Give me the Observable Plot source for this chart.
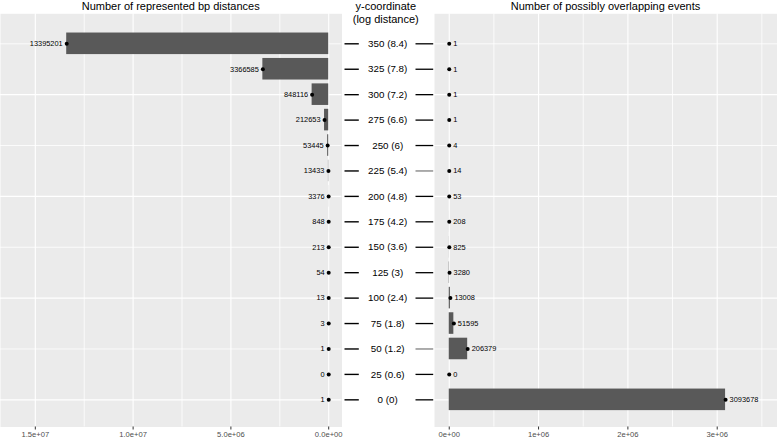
<!DOCTYPE html>
<html>
<head>
<meta charset="utf-8">
<script src="https://cdn.jsdelivr.net/npm/d3@7"></script>
<script src="https://cdn.jsdelivr.net/npm/@observablehq/plot@0.6"></script>
<style>
  html, body { margin: 0; padding: 0; background: #fff; }
  #wrap { position: relative; width: 777px; height: 440px; overflow: hidden; font-family: "Liberation Sans", Arial, sans-serif; }
  .panel { position: absolute; top: 0; }
  .title { position: absolute; top: 0px; font-size: 11px; line-height: 12.5px; color: #000; text-align: center; white-space: nowrap; transform: translateX(-50%); }
</style>
</head>
<body>
<div id="wrap"></div>
<script>
// ---- data ----
const yCoord   = [350, 325, 300, 275, 250, 225, 200, 175, 150, 125, 100, 75, 50, 25, 0];
const logDist  = ["8.4", "7.8", "7.2", "6.6", "6", "5.4", "4.8", "4.2", "3.6", "3", "2.4", "1.8", "1.2", "0.6", "0"];
const bpCounts = [13395201, 3366585, 848116, 212653, 53445, 13433, 3376, 848, 213, 54, 13, 3, 1, 0, 1];
const events   = [1, 1, 1, 1, 4, 14, 53, 208, 825, 3280, 13008, 51595, 206379, 0, 3093678];

const leftTicks  = [0, 5e6, 1e7, 1.5e7];
const leftMinor  = [2.5e6, 7.5e6, 1.25e7];
const rightTicks = [0, 1e6, 2e6, 3e6];
const rightMinor = [0.5e6, 1.5e6, 2.5e6, 3.5e6];
const yMajor = [0, 100, 200, 300];
const yMinor = [50, 150, 250, 350];

const titles = {
  left: "Number of represented bp distances",
  mid: ["y-coordinate", "(log distance)"],
  right: "Number of possibly overlapping events"
};

// style config for the connecting segments on the right of the labels
const graySegRows = new Set([225, 50]);

const rows = yCoord.map((y, i) => ({y, log: logDist[i], bp: bpCounts[i], ev: events[i]}));

// ---- helpers ----
function fmtExp(digits) {
  return v => {
    const [m, e] = v.toExponential(digits).split("e");
    const sign = e[0] === "-" ? "-" : "+";
    const n = e.replace(/^[+-]/, "");
    return `${m}e${sign}${n.padStart(2, "0")}`;
  };
}

const H = 440, MT = 13.3, MB = 13.5;
const yDomain = [-26.7, 379.5];
const half = 10.6;
const FONT = "'Liberation Sans', Arial, sans-serif";
const wrap = document.getElementById("wrap");

function place(svg, left) {
  const d = document.createElement("div");
  d.className = "panel";
  d.style.left = left + "px";
  d.appendChild(svg);
  wrap.appendChild(d);
}

function sidePanel({width, domain, reverse, valueKey, ticks, minor, fmt, labelSide}) {
  return Plot.plot({
    width, height: H,
    marginLeft: 0, marginRight: 0, marginTop: MT, marginBottom: MB,
    style: {fontFamily: FONT, background: "transparent", color: "#4d4d4d", overflow: "visible"},
    x: {domain, reverse},
    y: {domain: yDomain, axis: null},
    marks: [
      Plot.frame({fill: "#ebebeb"}),
      Plot.ruleX(minor, {stroke: "white", strokeWidth: 0.8}),
      Plot.ruleX(ticks, {stroke: "white", strokeWidth: 1.1}),
      Plot.ruleY(yMinor, {stroke: "white", strokeWidth: 0.8}),
      Plot.ruleY(yMajor, {stroke: "white", strokeWidth: 1.1}),
      Plot.rect(rows, {x1: 0, x2: valueKey, y1: d => d.y - half, y2: d => d.y + half, fill: "#595959"}),
      Plot.dot(rows, {x: valueKey, y: "y", r: 2, fill: "black", stroke: "none"}),
      Plot.text(rows, {
        x: valueKey, y: "y", text: d => String(d[valueKey]),
        textAnchor: labelSide === "left" ? "end" : "start",
        dx: labelSide === "left" ? -4 : 4,
        fontSize: 7.4, fill: "black"
      }),
      Plot.axisX({ticks, tickFormat: fmt, tickSize: 3, tickPadding: 2, fontSize: 7.6, stroke: "#333333", fill: "#4d4d4d", label: null})
    ]
  });
}

const leftW = 341.5, midW = 92.5, rightW = 777 - leftW - midW;

const leftSvg = sidePanel({
  width: leftW, domain: [-680000, 16780000], reverse: true, valueKey: "bp",
  ticks: leftTicks, minor: leftMinor, fmt: fmtExp(1), labelSide: "left"
});

const rightSvg = sidePanel({
  width: rightW, domain: [-165000, 3675000], reverse: false, valueKey: "ev",
  ticks: rightTicks, minor: rightMinor, fmt: fmtExp(0), labelSide: "right"
});

const midSvg = Plot.plot({
  width: midW, height: H,
  marginLeft: 0, marginRight: 0, marginTop: MT, marginBottom: MB,
  style: {fontFamily: FONT, background: "transparent", color: "#000", overflow: "visible"},
  x: {domain: [0, midW], axis: null},
  y: {domain: yDomain, axis: null},
  marks: [
    Plot.ruleY(rows, {y: "y", x1: 2.5, x2: 16.8, stroke: "black", strokeWidth: 1.4}),
    Plot.ruleY(rows, {y: "y", x1: 73.5, x2: 91.2, stroke: d => graySegRows.has(d.y) ? "#808080" : "black", strokeWidth: 1.3}),
    Plot.text(rows, {x: 45.2, y: "y", text: d => `${d.y} (${d.log})`, fontSize: 9.8, fill: "black"})
  ]
});

place(leftSvg, 0);
place(midSvg, leftW);
place(rightSvg, leftW + midW);

function addTitle(lines, cx) {
  const t = document.createElement("div");
  t.className = "title";
  t.style.left = cx + "px";
  t.innerHTML = [].concat(lines).join("<br>");
  wrap.appendChild(t);
}
addTitle(titles.left, leftW / 2);
addTitle(titles.mid, leftW + midW / 2 - 2);
addTitle(titles.right, leftW + midW + rightW / 2);
</script>
</body>
</html>
